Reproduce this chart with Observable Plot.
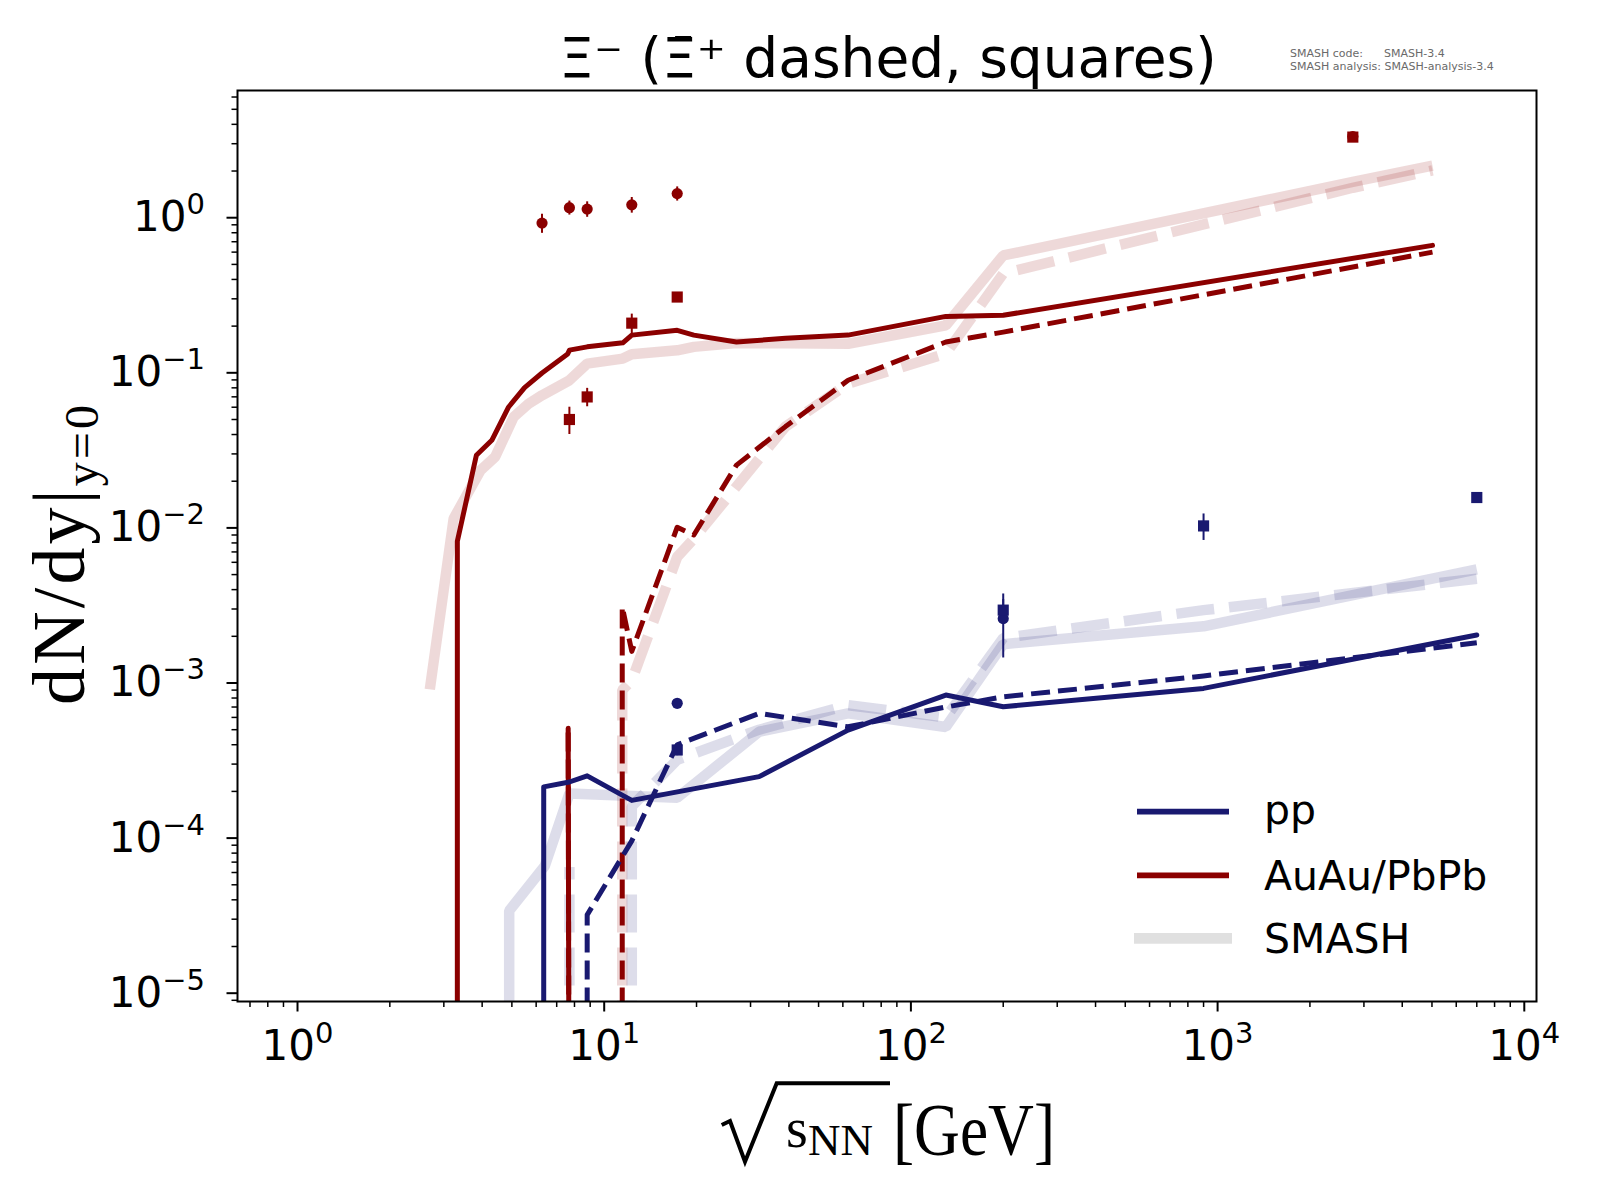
<!DOCTYPE html>
<html><head><meta charset="utf-8">
<script src="https://cdn.jsdelivr.net/npm/d3@7"></script>
<script src="https://cdn.jsdelivr.net/npm/@observablehq/plot@0.6"></script>
<style>
body{margin:0;background:#fff;}
#wrap{position:relative;width:1600px;height:1200px;}
#overlay{position:absolute;left:0;top:0;}
</style></head><body><div id="wrap"></div>
<script>
// ---------------- data ----------------
// AuAu/PbPb model, Xi- (solid)
const aaMinusX = [3.32, 3.32, 3.83, 4.3, 4.88, 5.5, 6.27, 7.6, 7.7, 8.8, 11.5, 12.3, 17.3, 19.6, 27, 39, 62.4, 130, 200, 5020];
const aaMinusY = [1e-7, 8.2e-3, 0.0294, 0.0367, 0.0602, 0.0803, 0.0997, 0.132, 0.140, 0.147, 0.156, 0.175, 0.188, 0.175, 0.158, 0.167, 0.175, 0.231, 0.235, 0.663];
// AuAu/PbPb model, anti-Xi+ (dashed)
const aaPlusX = [11.45, 11.45, 12.3, 17.3, 19.6, 27, 39, 62.4, 130, 200, 5020];
const aaPlusY = [1e-7, 3.1e-3, 1.6e-3, 0.0101, 0.0090, 0.0254, 0.045, 0.0895, 0.158, 0.183, 0.60];
// short red model lines at 7.7 GeV
const aaLowX = [7.63, 7.7];
const aaLowMinusY = [5.1e-4, 1e-7];
const aaLowPlusY = [4.8e-4, 1e-7];
// SMASH reference AuAu/PbPb
const smAaMinusX = [2.7, 3.23, 3.95, 4.41, 5.07, 5.66, 6.27, 7.7, 8.8, 11.5, 12.3, 17.3, 19.6, 27, 39, 62.4, 130, 200, 2760, 5020];
const smAaMinusY = [9.1e-4, 0.0115, 0.0235, 0.0287, 0.052, 0.063, 0.0716, 0.0895, 0.1146, 0.1235, 0.1316, 0.1396, 0.147, 0.1556, 0.155, 0.154, 0.202, 0.571, 1.70, 2.17];
const smAaPlusX = [11.45, 11.45, 12.3, 17.3, 19.6, 27, 39, 62.4, 130, 200, 2760, 5020];
const smAaPlusY = [1e-7, 9e-4, 1.04e-3, 6.5e-3, 8.5e-3, 0.0185, 0.045, 0.0851, 0.133, 0.436, 1.56, 2.02];
// pp model
const ppMinusX = [6.35, 6.35, 7.7, 8.8, 12.3, 32, 62.4, 130, 200, 900, 7000];
const ppMinusY = [1e-7, 2.14e-4, 2.3e-4, 2.52e-4, 1.75e-4, 2.49e-4, 4.97e-4, 8.36e-4, 7.03e-4, 9.23e-4, 2.04e-3];
const ppPlusX = [8.8, 8.8, 12.3, 17.3, 32, 62.4, 130, 200, 900, 7000];
const ppPlusY = [1e-7, 3.2e-5, 9.6e-5, 4.0e-4, 6.37e-4, 5.22e-4, 7.0e-4, 8.15e-4, 1.11e-3, 1.82e-3];
// SMASH reference pp
const smPpMinusX = [4.9, 4.9, 6.4, 7.7, 17.3, 32, 62.4, 130, 200, 900, 7000];
const smPpMinusY = [1e-7, 3.4e-5, 6.6e-5, 1.94e-4, 1.82e-4, 4.85e-4, 6.37e-4, 5.2e-4, 1.78e-3, 2.32e-3, 5.4e-3];
const smPpPlusX = [7.7, 7.7, 8.8, 12.3, 12.3, 17.3, 32, 62.4, 130, 200, 900, 7000];
const smPpPlusY = [1e-7, 6.5e-5, NaN, 1e-7, 1.6e-4, 3.2e-4, 5.0e-4, 7.2e-4, 6.0e-4, 1.95e-3, 2.95e-3, 4.7e-3];
// experimental data
const aaDataMinusX = [6.27, 7.7, 8.8, 12.3, 17.3, 2760];
const aaDataMinusY = [0.923, 1.16, 1.136, 1.21, 1.43, 3.34];
const aaDataMinusE = [0.13, 0.12, 0.13, 0.14, 0.15, 0.2];
const aaDataPlusX = [7.7, 8.8, 12.3, 17.3, 2760];
const aaDataPlusY = [0.050, 0.0699, 0.209, 0.308, 3.31];
const aaDataPlusE = [0.010, 0.0095, 0.03, 0.02, 0.15];
const ppDataMinusX = [17.3, 200];
const ppDataMinusY = [7.4e-4, 2.6e-3];
const ppDataMinusE = [0.2e-4, 1.15e-3];
const ppDataPlusX = [17.3, 200, 900, 7000];
const ppDataPlusY = [3.7e-4, 2.95e-3, 0.0103, 0.0157];
const ppDataPlusE = [0.3e-4, 0.5e-3, 0.002, 0.0008];
// axes
const xMajor = [1, 10, 100, 1000, 10000];
const yMajor = [1e-5, 1e-4, 1e-3, 1e-2, 1e-1, 1];
const xDomain = [0.6373, 10960];
const yDomain = [8.84e-6, 6.61];
const legendLabels = ["pp", "AuAu/PbPb", "SMASH"];

// ---------------- build ----------------
const RED = "#8b0000", BLUE = "#191970";
const S = (xs, ys, es) => xs.map((x, i) => ({x, y: ys[i], e: es ? es[i] : 0}));
const minorOf = dom => {
  const out = [];
  for (let k = -7; k <= 4; k++) for (let m = 2; m <= 9; m++) {
    const v = m * Math.pow(10, k);
    if (v >= dom[0] && v <= dom[1]) out.push(v);
  }
  return out;
};
const fmtPow = d => "10|" + String(Math.round(Math.log10(d))).replace("-", "\u2212");

const smashLine = (data, color, dashed) => Plot.line(data, {x: "x", y: "y", stroke: color, strokeWidth: 10.5,
  strokeOpacity: 0.15, clip: true, strokeLinecap: "butt", strokeLinejoin: "miter",
  strokeDasharray: dashed ? "38,15" : null});
const modelLine = (data, color, dashed) => Plot.line(data, {x: "x", y: "y", stroke: color, strokeWidth: 5,
  clip: true, strokeLinecap: dashed ? "butt" : "round", strokeLinejoin: "round",
  strokeDasharray: dashed ? "19,8" : null});
const errBars = (data, color) => Plot.ruleX(data, {x: "x", y1: d => d.y - d.e, y2: d => d.y + d.e, stroke: color, strokeWidth: 2});
const pts = (data, color, sym) => Plot.dot(data, {x: "x", y: "y", fill: color, stroke: null, symbol: sym, r: sym === "square" ? 6.3 : 5.6});

const plot = Plot.plot({
  width: 1600, height: 1200,
  marginLeft: 237, marginRight: 64, marginTop: 90, marginBottom: 199,
  style: {fontFamily: "DejaVu Sans", background: "white", color: "black"},
  x: {type: "log", domain: xDomain},
  y: {type: "log", domain: yDomain},
  marks: [
    smashLine(S(smAaMinusX, smAaMinusY), RED, false),
    smashLine(S(smAaPlusX, smAaPlusY), RED, true),
    smashLine(S(smPpMinusX, smPpMinusY), BLUE, false),
    smashLine(S(smPpPlusX, smPpPlusY), BLUE, true),
    modelLine(S(aaMinusX, aaMinusY), RED, false),
    modelLine(S(aaPlusX, aaPlusY), RED, true),
    modelLine(S(aaLowX, aaLowMinusY), RED, false),
    modelLine(S(aaLowX, aaLowPlusY), RED, true),
    modelLine(S(ppMinusX, ppMinusY), BLUE, false),
    modelLine(S(ppPlusX, ppPlusY), BLUE, true),
    errBars(S(aaDataMinusX, aaDataMinusY, aaDataMinusE), RED),
    errBars(S(aaDataPlusX, aaDataPlusY, aaDataPlusE), RED),
    errBars(S(ppDataMinusX, ppDataMinusY, ppDataMinusE), BLUE),
    errBars(S(ppDataPlusX, ppDataPlusY, ppDataPlusE), BLUE),
    pts(S(aaDataMinusX, aaDataMinusY), RED, "circle"),
    pts(S(aaDataPlusX, aaDataPlusY), RED, "square"),
    pts(S(ppDataMinusX, ppDataMinusY), BLUE, "circle"),
    pts(S(ppDataPlusX, ppDataPlusY), BLUE, "square"),
    Plot.axisX({ticks: minorOf(xDomain), tickSize: 6, tickFormat: () => "", strokeWidth: 1.5, label: null}),
    Plot.axisY({ticks: minorOf(yDomain), tickSize: 5.5, tickFormat: () => "", strokeWidth: 1.5, label: null}),
    Plot.axisX({ticks: xMajor, tickSize: 10.5, tickPadding: 18, tickFormat: fmtPow, fontSize: 42, strokeWidth: 2, label: null}),
    Plot.axisY({ticks: yMajor, tickSize: 10.5, tickPadding: 22, tickFormat: fmtPow, fontSize: 42, strokeWidth: 2, label: null}),
    Plot.frame({stroke: "black", strokeWidth: 2})
  ]
});
document.getElementById("wrap").appendChild(plot);

// superscript exponents in tick labels
plot.querySelectorAll("text").forEach(t => {
  const m = /^10\|(.+)$/.exec(t.textContent);
  if (!m) return;
  while (t.firstChild) t.removeChild(t.firstChild);
  t.appendChild(document.createTextNode("10"));
  const sp = document.createElementNS("http://www.w3.org/2000/svg", "tspan");
  sp.setAttribute("dy", "-17");
  sp.setAttribute("font-size", "29");
  sp.textContent = m[1];
  t.appendChild(sp);
});

// ---------------- overlay: title, labels, legend ----------------
const ov = d3.select("#wrap").append("svg").attr("id", "overlay").attr("width", 1600).attr("height", 1200);

ov.append("text").attr("x", 888).attr("y", 77).attr("text-anchor", "middle")
  .attr("font-family", "DejaVu Sans").attr("font-size", 55)
  .text("\u039E\u207B (\u039E\u0304\u207A dashed, squares)");

const ver = ov.append("g").attr("font-family", "DejaVu Sans").attr("font-size", 11).attr("fill", "#6a6a6a");
ver.append("text").attr("x", 1290).attr("y", 57).text("SMASH code:");
ver.append("text").attr("x", 1384).attr("y", 57).text("SMASH-3.4");
ver.append("text").attr("x", 1290).attr("y", 70).text("SMASH analysis: SMASH-analysis-3.4");

// y label
const yl = ov.append("text").attr("transform", "translate(84,555) rotate(-90)").attr("text-anchor", "middle")
  .attr("font-family", "Liberation Serif").attr("font-size", 74)
  .attr("textLength", 300).attr("lengthAdjust", "spacing");
yl.append("tspan").text("dN/dy|");
yl.append("tspan").attr("font-size", 48).attr("dy", 14).text("y=0");

// x label
ov.append("path").attr("d", "M721.7,1125 L730,1121 L745,1161.7 L776.7,1083.3 L890,1083.3")
  .attr("fill", "none").attr("stroke", "black").attr("stroke-width", 4).attr("stroke-linejoin", "miter");
ov.append("text").attr("x", 786).attr("y", 1147).attr("font-family", "Liberation Serif").attr("font-size", 56).text("s");
ov.append("text").attr("x", 808).attr("y", 1155).attr("font-family", "Liberation Serif").attr("font-size", 44)
  .attr("textLength", 65).attr("lengthAdjust", "spacingAndGlyphs").text("NN");
ov.append("text").attr("x", 893).attr("y", 1155).attr("font-family", "Liberation Serif").attr("font-size", 74)
  .attr("textLength", 162).attr("lengthAdjust", "spacingAndGlyphs").text("[GeV]");

// legend
const leg = ov.append("g");
const legendStyles = [
  {color: BLUE, w: 5.7, y: 811.7, ty: 824, x1: 1137, x2: 1229},
  {color: RED, w: 5.7, y: 875.3, ty: 889.5, x1: 1137, x2: 1229},
  {color: "#e0e0e0", w: 10.7, y: 938.3, ty: 953, x1: 1134, x2: 1232}
];
legendLabels.forEach((lab, i) => {
  const s = legendStyles[i];
  leg.append("line").attr("x1", s.x1).attr("x2", s.x2).attr("y1", s.y).attr("y2", s.y)
    .attr("stroke", s.color).attr("stroke-width", s.w);
  leg.append("text").attr("x", 1264).attr("y", s.ty).attr("font-family", "DejaVu Sans").attr("font-size", 41).text(lab);
});
</script></body></html>
